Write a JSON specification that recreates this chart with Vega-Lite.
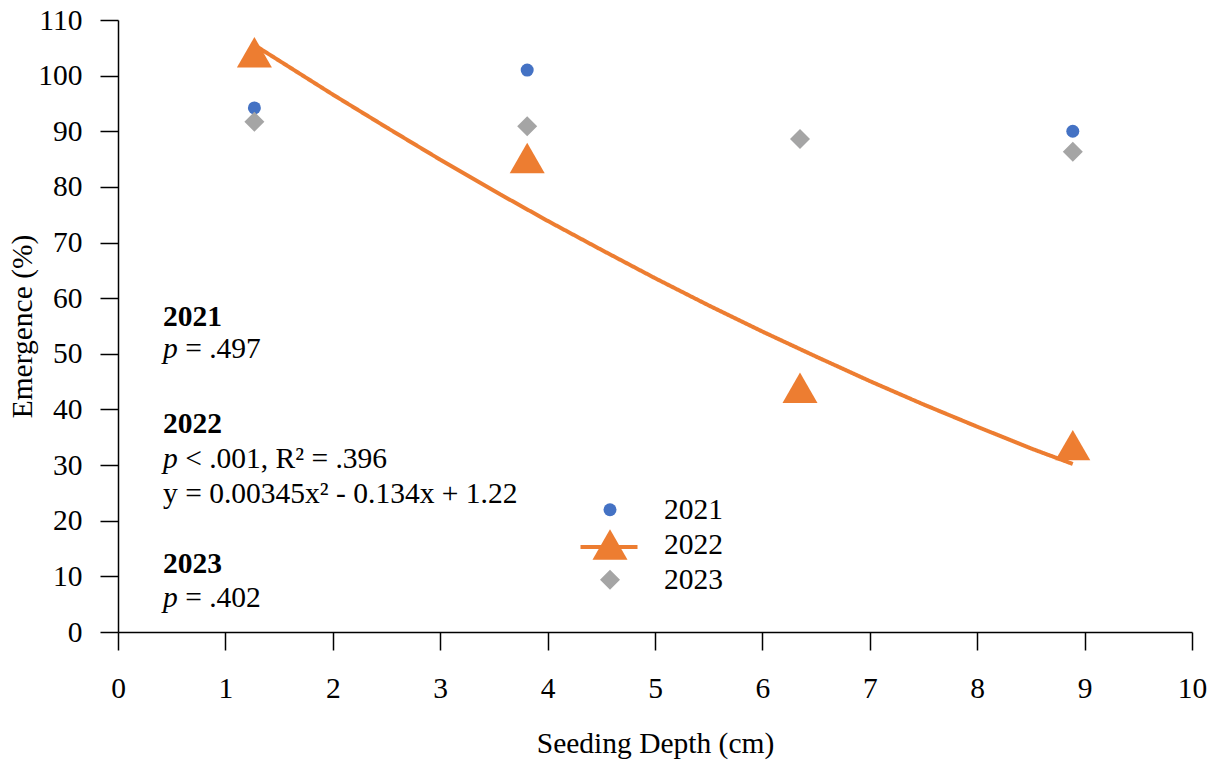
{
  "$schema": "https://vega.github.io/schema/vega-lite/v6.json",
  "width": 1074,
  "height": 612,
  "autosize": {"type": "none"},
  "padding": {"left": 118, "top": 20, "right": 24, "bottom": 135},
  "background": "white",
  "config": {
    "font": "Liberation Serif, Times New Roman, DejaVu Serif, serif",
    "view": {"stroke": null},
    "text": {"font": "Liberation Serif, Times New Roman, DejaVu Serif, serif"},
    "axis": {
      "labelFont": "Liberation Serif, Times New Roman, DejaVu Serif, serif",
      "titleFont": "Liberation Serif, Times New Roman, DejaVu Serif, serif",
      "labelFontSize": 29.5,
      "titleFontSize": 29.5,
      "titleFontWeight": "normal",
      "labelColor": "black",
      "titleColor": "black",
      "domainColor": "black",
      "tickColor": "black",
      "domainWidth": 1.5,
      "tickWidth": 1.5,
      "tickSize": 18,
      "grid": false
    },
    "legend": {
      "labelFont": "Liberation Serif, Times New Roman, DejaVu Serif, serif",
      "labelFontSize": 29.5,
      "labelColor": "black",
      "padding": 0,
      "symbolOpacity": 1
    }
  },
  "datasets": {
    "pts": [
      {"depth": 1.27, "em": 94.2, "year": "2021"},
      {"depth": 3.81, "em": 101.0, "year": "2021"},
      {"depth": 6.35, "em": 88.6, "year": "2021"},
      {"depth": 8.89, "em": 90.0, "year": "2021"},
      {"depth": 1.27, "em": 104.2, "year": "2022"},
      {"depth": 3.81, "em": 85.2, "year": "2022"},
      {"depth": 6.35, "em": 43.9, "year": "2022"},
      {"depth": 8.89, "em": 33.6, "year": "2022"},
      {"depth": 1.27, "em": 91.7, "year": "2023"},
      {"depth": 3.81, "em": 90.9, "year": "2023"},
      {"depth": 6.35, "em": 88.6, "year": "2023"},
      {"depth": 8.89, "em": 86.3, "year": "2023"}
    ],
    "fit": [
      {"depth": 1.27, "em": 105.5, "series": "2022"},
      {"depth": 1.5, "em": 102.7, "series": "2022"},
      {"depth": 2.0, "em": 96.6, "series": "2022"},
      {"depth": 2.5, "em": 90.7, "series": "2022"},
      {"depth": 3.0, "em": 84.9, "series": "2022"},
      {"depth": 3.5, "em": 79.3, "series": "2022"},
      {"depth": 4.0, "em": 73.9, "series": "2022"},
      {"depth": 4.5, "em": 68.7, "series": "2022"},
      {"depth": 5.0, "em": 63.6, "series": "2022"},
      {"depth": 5.5, "em": 58.7, "series": "2022"},
      {"depth": 6.0, "em": 54.0, "series": "2022"},
      {"depth": 6.5, "em": 49.5, "series": "2022"},
      {"depth": 7.0, "em": 45.1, "series": "2022"},
      {"depth": 7.5, "em": 40.9, "series": "2022"},
      {"depth": 8.0, "em": 36.9, "series": "2022"},
      {"depth": 8.5, "em": 33.0, "series": "2022"},
      {"depth": 8.89, "em": 30.2, "series": "2022"}
    ],
    "notes": [
      {"depth": 0.42, "em": 55.0, "style": "bold", "label": "2021"},
      {"depth": 0.42, "em": 49.25, "style": "italic", "label": "p"},
      {"depth": 0.625, "em": 49.25, "style": "normal", "label": "= .497"},
      {"depth": 0.42, "em": 35.77, "style": "bold", "label": "2022"},
      {"depth": 0.42, "em": 29.48, "style": "italic", "label": "p"},
      {"depth": 0.625, "em": 29.48, "style": "normal", "label": "< .001, R² = .396"},
      {"depth": 0.42, "em": 23.19, "style": "normal", "label": "y = 0.00345x² - 0.134x + 1.22"},
      {"depth": 0.42, "em": 10.6, "style": "bold", "label": "2023"},
      {"depth": 0.42, "em": 4.49, "style": "italic", "label": "p"},
      {"depth": 0.625, "em": 4.49, "style": "normal", "label": "= .402"}
    ]
  },
  "encoding": {
    "x": {
      "field": "depth",
      "type": "quantitative",
      "scale": {"domain": [0, 10], "nice": false, "zero": false},
      "axis": {
        "title": "Seeding Depth (cm)",
        "values": [0, 1, 2, 3, 4, 5, 6, 7, 8, 9, 10],
        "labelPadding": 24,
        "titlePadding": 27,
        "labelFlush": false,
        "labelOverlap": false
      }
    },
    "y": {
      "field": "em",
      "type": "quantitative",
      "scale": {"domain": [0, 110], "nice": false},
      "axis": {
        "title": "Emergence (%)",
        "values": [0, 10, 20, 30, 40, 50, 60, 70, 80, 90, 100, 110],
        "labelPadding": 18,
        "titlePadding": 0,
        "labelFlush": false,
        "labelOverlap": false
      }
    }
  },
  "layer": [
    {
      "data": {"name": "fit"},
      "mark": {"type": "line", "color": "#ED7D31", "strokeWidth": 4},
      "encoding": {
        "strokeDash": {
          "field": "series",
          "type": "nominal",
          "scale": {"domain": ["2022"], "range": [[1, 0]]},
          "legend": {
            "orient": "none",
            "legendX": 460.5,
            "legendY": 496.5,
            "title": null,
            "symbolType": "stroke",
            "symbolSize": 3249,
            "symbolStrokeWidth": 4,
            "symbolStrokeColor": "#ED7D31",
            "labelExpr": "''",
            "labelOffset": 0
          }
        }
      }
    },
    {
      "data": {"name": "pts"},
      "mark": {"type": "point", "filled": true, "opacity": 1, "strokeWidth": 0},
      "encoding": {
        "color": {
          "field": "year",
          "type": "nominal",
          "scale": {"domain": ["2021", "2022", "2023"], "range": ["#4472C4", "#ED7D31", "#A5A5A5"]},
          "legend": {
            "orient": "none",
            "legendX": 473.5,
            "legendY": 475,
            "title": null,
            "labelOffset": 35.5,
            "rowPadding": 1
          }
        },
        "shape": {
          "field": "year",
          "type": "nominal",
          "scale": {"domain": ["2021", "2022", "2023"], "range": ["circle", "triangle-up", "diamond"]}
        },
        "size": {
          "field": "year",
          "type": "nominal",
          "scale": {"type": "ordinal", "domain": ["2021", "2022", "2023"], "range": [169, 1225, 400]}
        }
      }
    },
    {
      "data": {"name": "notes"},
      "transform": [{"filter": "datum.style === 'bold'"}],
      "mark": {"type": "text", "align": "left", "baseline": "alphabetic", "fontSize": 29.5, "fontWeight": "bold", "color": "black"},
      "encoding": {"text": {"field": "label", "type": "nominal"}}
    },
    {
      "data": {"name": "notes"},
      "transform": [{"filter": "datum.style === 'italic'"}],
      "mark": {"type": "text", "align": "left", "baseline": "alphabetic", "fontSize": 29.5, "fontStyle": "italic", "color": "black"},
      "encoding": {"text": {"field": "label", "type": "nominal"}}
    },
    {
      "data": {"name": "notes"},
      "transform": [{"filter": "datum.style === 'normal'"}],
      "mark": {"type": "text", "align": "left", "baseline": "alphabetic", "fontSize": 29.5, "color": "black"},
      "encoding": {"text": {"field": "label", "type": "nominal"}}
    }
  ]
}
